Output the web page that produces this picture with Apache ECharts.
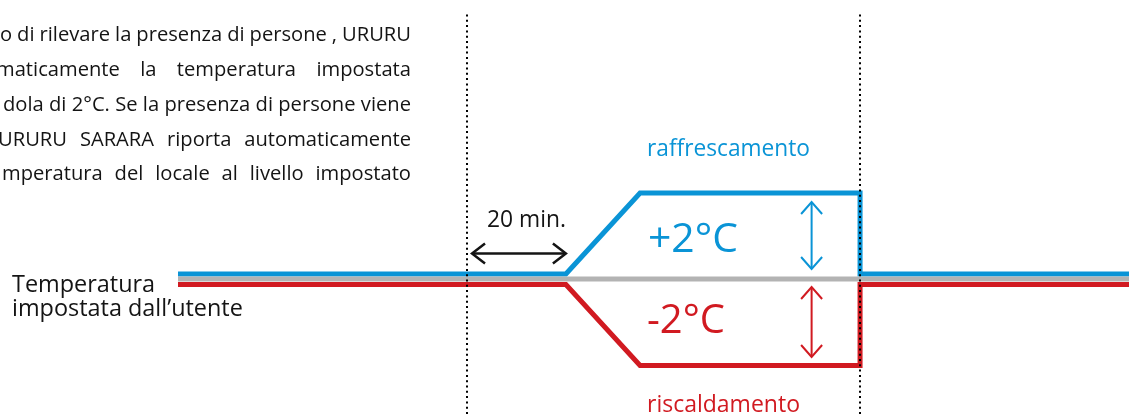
<!DOCTYPE html>
<html><head><meta charset="utf-8">
<script src="https://cdn.jsdelivr.net/npm/echarts@6/dist/echarts.min.js"></script>
<style>html,body{margin:0;padding:0;background:#fff}#c{width:1129px;height:414px}</style>
</head><body><div id="c"></div><script>
// ---- data (time in minutes, offset in °C from the user set-point) ----
const timeMin     = [-58.46, 20, 35, 79.5, 79.5, 133.9];
const coolOffset  = [0, 0, 2, 2, 0, 0];     // raffrescamento
const heatOffset  = [0, 0, -2, -2, 0, 0];   // riscaldamento
const setTime     = [-58.46, 133.9];
const setOffset   = [0, 0];                 // temperatura impostata
const markerTimes = [0, 79.5];              // dotted event lines
const delayMin    = [0, 20];                // "20 min."
const rangeArrowTime = 69.7;
const coolRange   = [0, 2];
const heatRange   = [0, -2];
const paragraphLines = [
  "o di rilevare la presenza di persone , URURU",
  "maticamente la temperatura impostata",
  "dola di 2°C. Se la presenza di persone viene",
  "URURU SARARA riporta automaticamente",
  "mperatura del locale al livello impostato"
];

const BLUE = '#0a94d6', RED = '#d11a21', GRAY = '#b3b3b3', INK = '#141414';
const FAM = '"Open Sans", "Noto Sans", sans-serif';
const X_MIN = -58.46, X_MAX = 133.9;

const cv = document.createElement('canvas').getContext('2d');
function fitSize(text, w) { cv.font = '100px ' + FAM; return 100 * w / cv.measureText(text).width; }
function baseOff(size) { cv.font = size + 'px ' + FAM; cv.textBaseline = 'middle'; return cv.measureText('H').actualBoundingBoxDescent; }
function txt(text, left, baseline, size, color) {
  return { type: 'text', x: left, y: baseline - baseOff(size), z: 10,
    style: { text, font: size + 'px ' + FAM, fill: color, align: 'left', verticalAlign: 'middle' } };
}
function justify(line, left, right, baseline, size, color) {
  const words = line.split(' ');
  cv.font = size + 'px ' + FAM;
  const ws = words.map(w => cv.measureText(w).width);
  const tot = ws.reduce((a, b) => a + b, 0);
  const gap = words.length > 1 ? (right - left - tot) / (words.length - 1) : 0;
  let x = left; const out = [];
  words.forEach((w, i) => { out.push(txt(w, x, baseline, size, color)); x += ws[i] + gap; });
  return out;
}

function arrowShape(ax, ay, bx, by, insA, insB, L, W, color, lw) {
  const len = Math.hypot(bx - ax, by - ay), ux = (bx - ax) / len, uy = (by - ay) / len;
  const sx = ax + ux * insA, sy = ay + uy * insA, ex = bx - ux * insB, ey = by - uy * insB;
  const px = -uy, py = ux;
  const style = { stroke: color, lineWidth: lw, fill: null, lineCap: 'butt', lineJoin: 'miter' };
  return { type: 'group', children: [
    { type: 'line', shape: { x1: sx, y1: sy, x2: ex, y2: ey }, style },
    { type: 'polyline', shape: { points: [[sx + ux * L + px * W, sy + uy * L + py * W], [sx, sy], [sx + ux * L - px * W, sy + uy * L - py * W]] }, style },
    { type: 'polyline', shape: { points: [[ex - ux * L + px * W, ey - uy * L + py * W], [ex, ey], [ex - ux * L - px * W, ey - uy * L - py * W]] }, style }
  ]};
}
function vArrow(insA, insB, color) {
  return function (params, api) {
    const a = api.coord([api.value(0), api.value(1)]);
    const b = api.coord([api.value(0), api.value(2)]);
    return arrowShape(a[0], a[1], b[0], b[1], insA, insB, 12, 10.5, color, 2);
  };
}

const zip = (xs, ys) => xs.map((x, i) => [x, ys[i]]);

const grids = [
  { left: 178, right: 0, top: 13, bottom: 0 },       // frame
  { left: 178, right: 0, top: 198, height: 162 },    // set-point
  { left: 178, right: 0, top: 193, height: 162 },    // cooling
  { left: 178, right: 0, top: 203.5, height: 162 }   // heating
];
const xAxes = grids.map((g, i) => ({ type: 'value', gridIndex: i, min: X_MIN, max: X_MAX, show: false }));
const yAxes = grids.map((g, i) => i === 0
  ? { type: 'value', gridIndex: 0, min: 0, max: 1, show: false }
  : { type: 'value', gridIndex: i, min: -2, max: 2, show: false });

const lineStyle = (c) => ({ color: c, width: 5, cap: 'butt', join: 'miter' });

const pSize = fitSize(paragraphLines[2], 408);
const pLefts = [0, -4, 3, -2, 2];
const pBase = [40.5, 76, 111, 146, 180];
let graphics = [];
paragraphLines.forEach((l, i) => { graphics = graphics.concat(justify(l, pLefts[i], 411, pBase[i], pSize, INK)); });
const lSize = fitSize('impostata dall’utente', 231);
graphics.push(txt('Temperatura', 12, 291.5, lSize, INK));
graphics.push(txt('impostata dall’utente', 12, 315.5, lSize, INK));
graphics.push(txt('20 min.', 487, 227, fitSize('20 min.', 79), INK));
graphics.push(txt('raffrescamento', 647, 156, fitSize('raffrescamento', 163), BLUE));
graphics.push(txt('riscaldamento', 647, 412, fitSize('riscaldamento', 153), RED));
graphics.push(txt('+2°C', 648, 252, fitSize('+2°C', 90), BLUE));
graphics.push(txt('-2°C', 647, 333, fitSize('-2°C', 78), RED));

const chart = echarts.init(document.getElementById('c'), null, { renderer: 'canvas' });
chart.setOption({
  animation: false,
  backgroundColor: '#fff',
  grid: grids, xAxis: xAxes, yAxis: yAxes,
  series: [
    { type: 'line', xAxisIndex: 2, yAxisIndex: 2, data: zip(timeMin, coolOffset), showSymbol: false, clip: false, lineStyle: lineStyle(BLUE), z: 2 },
    { type: 'line', xAxisIndex: 3, yAxisIndex: 3, data: zip(timeMin, heatOffset), showSymbol: false, clip: false, lineStyle: lineStyle(RED), z: 2 },
    { type: 'line', xAxisIndex: 1, yAxisIndex: 1, data: zip(setTime, setOffset), showSymbol: false, clip: false, lineStyle: lineStyle(GRAY), z: 3 },
    { type: 'line', xAxisIndex: 0, yAxisIndex: 0, data: [], z: 6,
      markLine: { silent: true, symbol: ['none', 'none'], label: { show: false },
        lineStyle: { color: '#000', width: 2, type: [2, 3.3] },
        data: markerTimes.map(t => ({ xAxis: t })) } },
    { type: 'custom', xAxisIndex: 2, yAxisIndex: 2, clip: false, z: 7,
      data: [[rangeArrowTime, coolRange[0], coolRange[1]]], renderItem: vArrow(5, 9, BLUE) },
    { type: 'custom', xAxisIndex: 3, yAxisIndex: 3, clip: false, z: 7,
      data: [[rangeArrowTime, heatRange[0], heatRange[1]]], renderItem: vArrow(2.5, 8.5, RED) },
    { type: 'custom', xAxisIndex: 1, yAxisIndex: 1, clip: false, z: 7,
      data: [[delayMin[0], delayMin[1], 0]],
      renderItem: function (params, api) {
        const a = api.coord([api.value(0), api.value(2)]);
        const b = api.coord([api.value(1), api.value(2)]);
        return arrowShape(a[0], a[1] - 25.5, b[0], b[1] - 25.5, 5, 0, 13, 10, INK, 2.5);
      } }
  ],
  graphic: graphics
});
</script></body></html>
